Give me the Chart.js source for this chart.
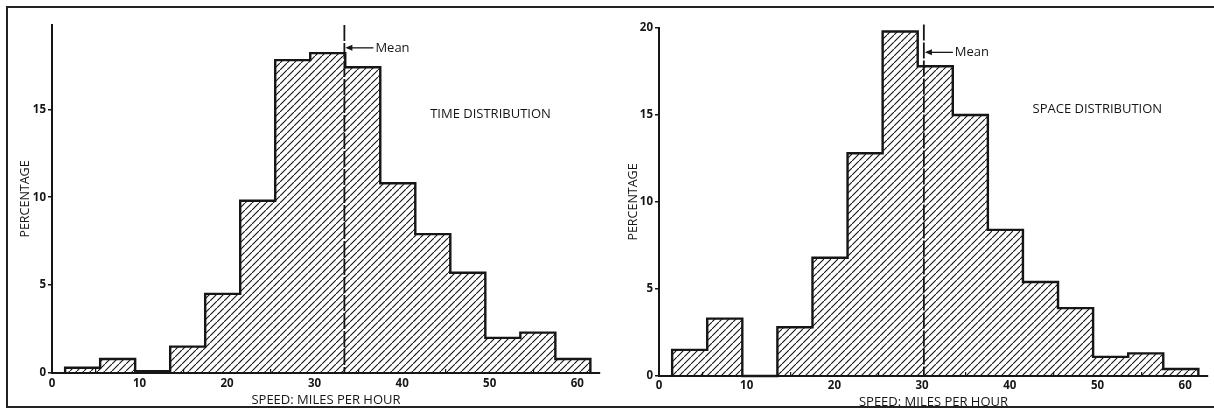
<!DOCTYPE html>
<html>
<head>
<meta charset="utf-8">
<title>Speed distributions</title>
<script src="https://cdn.jsdelivr.net/npm/chart.js@4.4.1/dist/chart.umd.min.js"></script>
<style>
  html, body { margin: 0; padding: 0; background: #fff; }
  #page { position: relative; width: 1214px; height: 410px; overflow: hidden; }
  .panel { position: absolute; top: 0; width: 607px; height: 410px; }
  #frame {
    position: absolute; left: 6px; top: 6px; width: 1214px; height: 398px;
    border-top: 2px solid #222; border-left: 2px solid #222; border-bottom: 2px solid #222;
    pointer-events: none;
  }
</style>
</head>
<body>
<div id="page">
  <div class="panel" style="left:0"><canvas id="timeChart" width="607" height="410"></canvas></div>
  <div class="panel" style="left:607px"><canvas id="spaceChart" width="607" height="410"></canvas></div>
  <div id="frame"></div>
</div>
<script>
// speed classes, 4 mph wide (whole-mile speeds 2-5, 6-9, ... 58-61)
const binEdges = [1.5, 5.5, 9.5, 13.5, 17.5, 21.5, 25.5, 29.5, 33.5, 37.5, 41.5, 45.5, 49.5, 53.5, 57.5, 61.5];
const speedTicks = [0, 10, 20, 30, 40, 50, 60];

// percentage of vehicles in each class
const timePct  = [0.3, 0.8, 0.1, 1.5, 4.5, 9.8, 17.8, 18.2, 17.4, 10.8, 7.9, 5.7, 2.0, 2.3, 0.8];
const spacePct = [1.5, 3.3, 0.0, 2.8, 6.8, 12.8, 19.8, 17.8, 15.0, 8.4, 5.4, 3.9, 1.1, 1.3, 0.4];

const timeMean = 33.4;
const spaceMean = 30.2;

const timeTicks = [0, 5, 10, 15];
const spaceTicks = [0, 5, 10, 15, 20];

const ink = '#161616';
const face = '"Open Sans", Lato, sans-serif';
Chart.defaults.font.family = face;
Chart.defaults.color = ink;

// diagonal hatching used to fill the bars
function makeHatch() {
  const size = 7;
  const c = document.createElement('canvas');
  c.width = size; c.height = size;
  const g = c.getContext('2d');
  g.strokeStyle = ink;
  g.lineWidth = 1.1;
  g.beginPath();
  g.moveTo(-1, size + 1); g.lineTo(size + 1, -1);
  g.moveTo(-2, 1); g.lineTo(1, -2);
  g.moveTo(size - 1, size + 2); g.lineTo(size + 2, size - 1);
  g.stroke();
  return g.createPattern(c, 'repeat');
}
const hatch = makeHatch();

// "Mean" pointer and the panel caption
const notesPlugin = {
  id: 'notes',
  afterDatasetsDraw(chart, args, o) {
    const { ctx, scales: { x, y } } = chart;
    const mx = x.getPixelForValue(o.mean);
    const my = y.getPixelForValue(o.arrowY);
    ctx.save();
    ctx.strokeStyle = ink;
    ctx.fillStyle = ink;
    ctx.lineWidth = 1.3;
    ctx.beginPath();
    ctx.moveTo(mx + 3, my);
    ctx.lineTo(mx + 29, my);
    ctx.stroke();
    ctx.beginPath();
    ctx.moveTo(mx + 1, my);
    ctx.lineTo(mx + 8, my - 3);
    ctx.lineTo(mx + 8, my + 3);
    ctx.closePath();
    ctx.fill();
    ctx.textBaseline = 'middle';
    ctx.textAlign = 'left';
    ctx.font = '13px ' + face;
    ctx.fillText('Mean', mx + 31, my);
    ctx.font = '13px ' + face;
    ctx.fillText(o.caption, x.getPixelForValue(o.captionX), y.getPixelForValue(o.captionY));
    ctx.restore();
  }
};

function histogram(canvasId, values, mean, yMax, yTicks, box, notes) {
  const bars = values.map((v, i) => ({ x: (binEdges[i] + binEdges[i + 1]) / 2, y: v }));

  // stepped outline round the whole histogram
  const outline = [];
  values.forEach((v, i) => {
    outline.push({ x: binEdges[i], y: i ? values[i - 1] : 0 });
    outline.push({ x: binEdges[i], y: v });
  });
  const last = values.length;
  outline.push({ x: binEdges[last], y: values[last - 1] });
  outline.push({ x: binEdges[last], y: 0 });

  return new Chart(document.getElementById(canvasId), {
    type: 'bar',
    data: {
      datasets: [
        {
          type: 'line', data: [{ x: mean, y: box.meanTop }, { x: mean, y: 0 }],
          borderColor: ink, borderWidth: 1.8, borderDash: [16, 2],
          pointRadius: 0, fill: false, clip: false, order: 0
        },
        {
          type: 'line', data: outline,
          borderColor: ink, borderWidth: 2.4, pointRadius: 0, tension: 0,
          fill: false, clip: false, order: 1
        },
        {
          type: 'bar', data: bars, backgroundColor: hatch, borderWidth: 0,
          barPercentage: 1, categoryPercentage: 1, order: 2
        }
      ]
    },
    options: {
      responsive: false,
      animation: false,
      events: [],
      layout: { padding: { top: box.top, right: box.right, left: 0, bottom: 0 } },
      plugins: { legend: { display: false }, tooltip: { enabled: false }, notes },
      scales: {
        x: {
          type: 'linear', min: 0, max: 62.6, offset: false, z: 1,
          afterBuildTicks: s => { s.ticks = speedTicks.map(v => ({ value: v })); },
          afterFit: s => { s.height = box.xAxis; },
          grid: { drawOnChartArea: false, color: ink, lineWidth: 1.2, tickLength: -4 },
          border: { color: ink, width: 2 },
          ticks: { padding: box.xTickPad, font: { size: 11.5, weight: 'bold' }, maxRotation: 0 },
          title: { display: true, text: 'SPEED: MILES PER HOUR', font: { size: 13 }, padding: { top: 0, bottom: box.xTitlePad } }
        },
        y: {
          type: 'linear', min: 0, max: yMax, z: 1,
          afterBuildTicks: s => { s.ticks = yTicks.map(v => ({ value: v })); },
          afterFit: s => { s.width = 52; },
          grid: { drawOnChartArea: false, color: ink, lineWidth: 1.5, tickLength: 4 },
          border: { color: ink, width: 2 },
          ticks: { padding: 2, font: { size: 11.5, weight: 'bold' } },
          title: { display: true, text: 'PERCENTAGE', font: { size: 12.5 }, padding: { top: box.yTitlePad, bottom: 0 } }
        }
      }
    },
    plugins: [notesPlugin]
  });
}

histogram('timeChart', timePct, timeMean, 19.8, timeTicks,
  { top: 25, right: 7, xAxis: 37, xTickPad: 8, xTitlePad: 2, yTitlePad: 17.5, meanTop: 19.8 },
  { mean: timeMean, arrowY: 18.5, caption: 'TIME DISTRIBUTION', captionX: 43.2, captionY: 14.7 });

histogram('spaceChart', spacePct, spaceMean, 20, spaceTicks,
  { top: 28, right: 6, xAxis: 34, xTickPad: 7, xTitlePad: 0, yTitlePad: 18.5, meanTop: 20.2 },
  { mean: spaceMean, arrowY: 18.6, caption: 'SPACE DISTRIBUTION', captionX: 42.6, captionY: 15.3 });
</script>
</body>
</html>
